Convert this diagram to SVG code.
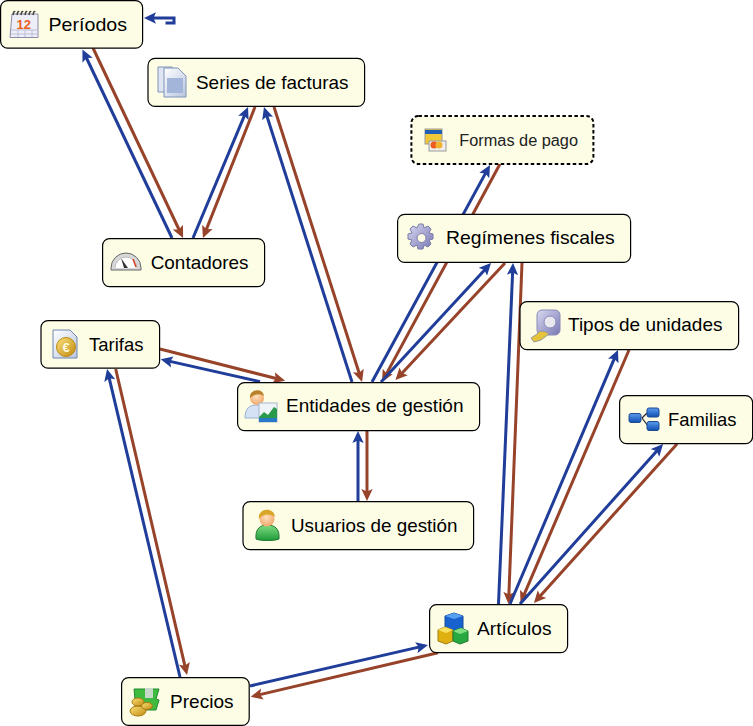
<svg xmlns="http://www.w3.org/2000/svg" width="753" height="726" viewBox="0 0 753 726">
<style>
.n{fill:#fdfde6;stroke:#000;stroke-width:1.2}
.d{stroke-dasharray:3.5 2.5;stroke-width:2}
text{font-family:"Liberation Sans",Arial,sans-serif;font-size:19px;fill:#000}
.b{fill:none;stroke:#1f3d99;stroke-width:3;marker-end:url(#mb)}
.r{fill:none;stroke:#97432a;stroke-width:3;marker-end:url(#mr)}
</style>
<defs>
<marker id="mb" markerUnits="userSpaceOnUse" markerWidth="12" markerHeight="12" viewBox="0 0 10 10" refX="5.800" refY="5" orient="auto"><path d="M10,5L0,.3L2,5L0,9.700Z" fill="#1f3d99"/></marker>
<marker id="mr" markerUnits="userSpaceOnUse" markerWidth="12" markerHeight="12" viewBox="0 0 10 10" refX="5.800" refY="5" orient="auto"><path d="M10,5L0,.3L2,5L0,9.700Z" fill="#97432a"/></marker>
<linearGradient id="gPaper" x1="0" y1="0" x2="1" y2="1"><stop offset="0" stop-color="#fff"/><stop offset="1" stop-color="#b9c6e0"/></linearGradient>
<linearGradient id="gGold" x1="0" y1="0" x2="1" y2="1"><stop offset="0" stop-color="#fbe27a"/><stop offset="1" stop-color="#c08a10"/></linearGradient>
<linearGradient id="gGreen" x1="0" y1="0" x2="0" y2="1"><stop offset="0" stop-color="#7fdc7f"/><stop offset="1" stop-color="#1f9a3a"/></linearGradient>
<linearGradient id="gBlue" x1="0" y1="0" x2="0" y2="1"><stop offset="0" stop-color="#5a9bee"/><stop offset="1" stop-color="#1050b0"/></linearGradient>
<linearGradient id="gGear" x1="0" y1="0" x2="1" y2="1"><stop offset="0" stop-color="#d9d9f2"/><stop offset="1" stop-color="#7878b4"/></linearGradient>
<radialGradient id="gSkin" cx=".45" cy=".4" r=".7"><stop offset="0" stop-color="#fde0bd"/><stop offset="1" stop-color="#ef9f5f"/></radialGradient>
</defs>
<g id="connectors">
<path class="b" d="M172,238L84.600,54"/>
<path class="r" d="M93,48L180.900,233.500"/>
<path class="b" d="M193,238L246.100,111.600"/>
<path class="r" d="M255,107L204.800,233.400"/>
<path class="b" d="M352,382L265.500,111.800"/>
<path class="r" d="M274,107L360.500,377.200"/>
<path class="b" d="M372,382L487.600,169.400"/>
<path class="r" d="M500,164L384.400,377.600"/>
<path class="b" d="M381,382L487.600,266.700"/>
<path class="r" d="M505,263L398.900,376.400"/>
<path class="b" d="M498.500,604L512.800,268"/>
<path class="r" d="M522,263L508.700,599"/>
<path class="b" d="M510,604L616,354.600"/>
<path class="r" d="M629,350L522.500,598.400"/>
<path class="b" d="M520,604L659.700,447.700"/>
<path class="r" d="M677,444L537.300,599.300"/>
<path class="b" d="M250,686L423.100,646.100"/>
<path class="r" d="M438,652.700L255.600,695.600"/>
<path class="b" d="M180,677L108.200,373.900"/>
<path class="r" d="M115.700,369L185.900,670.100"/>
<path class="b" d="M260,381.700L165.600,360.400"/>
<path class="r" d="M160,349L280.200,379.500"/>
<path class="b" d="M358,501L358,436"/>
<path class="r" d="M367,431L367,496"/>
<path class="b" d="M165.500,23H174V18H149"/>
</g>
<g id="periodos">
<rect class="n" x="0.600" y="0.600" width="142" height="47.600" rx="7"/>
<path d="M12,14L38,14L38,37.500L10,37.500Z" fill="#eeeef8" stroke="#8a8aa8"/>
<path d="M11,30H37.500M11,34H37.500M18,30V37M25,30V37M32,30V37" stroke="#bcbcd8" fill="none"/>
<path d="M13,15q1,-5 2,-3M17,15q1,-5 2,-3M21,15q1,-5 2,-3M25,15q1,-5 2,-3M29,15q1,-5 2,-3M33,15q1,-5 2,-3" stroke="#444" fill="none" stroke-width="1.500"/>
<text x="16.500" y="29" style="font-size:13px;font-weight:bold;fill:#e8601c">12</text>
<text x="48.500" y="31" textLength="78.500" lengthAdjust="spacingAndGlyphs">Períodos</text>
</g>
<g id="series">
<rect class="n" x="148" y="58.400" width="216.600" height="48" rx="7"/>
<path d="M158,67H172L176,71V92H158Z" fill="#dfe5f2" stroke="#7f92b8"/>
<path d="M164,68H178L186,76V97H164Z" fill="url(#gPaper)" stroke="#7f92b8"/>
<rect x="167" y="78" width="16" height="15" fill="#a3b6da"/>
<text x="196" y="89" textLength="152.500" lengthAdjust="spacingAndGlyphs">Series de facturas</text>
</g>
<g id="formas">
<rect class="n d" x="411.400" y="116" width="182" height="48" rx="7"/>
<rect x="425" y="129" width="17" height="15" fill="#f0c838" stroke="#9a9a9a"/>
<rect x="425" y="130" width="17" height="4" fill="#1f5fb8"/>
<rect x="429" y="141" width="17" height="10" fill="#eee" stroke="#9a9a9a"/>
<circle cx="434" cy="145" r="3.500" fill="#ef5a20"/><circle cx="439" cy="145" r="3.500" fill="#f3b32e"/>
<text x="459.300" y="146" textLength="118.700" lengthAdjust="spacingAndGlyphs" style="font-size:16px;fill:#222">Formas de pago</text>
</g>
<g id="regimenes">
<rect class="n" x="397.600" y="214.400" width="233" height="48" rx="7"/>
<path d="M419,224l4,0l1,4l4,-2l3,3l-2,4l4,1l0,5l-4,1l2,4l-3,3l-4,-2l-1,4l-5,0l-1,-4l-4,2l-3,-3l2,-4l-4,-1l0,-5l4,-1l-2,-4l3,-3l4,2Z" fill="url(#gGear)" stroke="#7a7aa8"/>
<circle cx="421.500" cy="238" r="4.500" fill="#fdfde6" stroke="#7a7aa8"/>
<text x="446" y="244" textLength="168.700" lengthAdjust="spacingAndGlyphs">Regímenes fiscales</text>
</g>
<g id="contadores">
<rect class="n" x="102.600" y="238.600" width="162" height="48" rx="7"/>
<path d="M111,270v-2a15,15 0 0 1 30,0v2Z" fill="#d8d8d8" stroke="#666"/>
<path d="M115,268a11,11 0 0 1 22,0" fill="#fff" stroke="#bbb"/>
<path d="M133,259l3,8" stroke="#d84020" stroke-width="1.500"/>
<path d="M121,258l7,10h-4Z" fill="#333"/>
<text x="150.700" y="269" textLength="97.800" lengthAdjust="spacingAndGlyphs">Contadores</text>
</g>
<g id="tarifas">
<rect class="n" x="41" y="320.600" width="118.600" height="47.600" rx="7"/>
<path d="M53,330H70L77,337V358H53Z" fill="url(#gPaper)" stroke="#6f84b0"/>
<circle cx="66" cy="347" r="9.500" fill="url(#gGold)" stroke="#b98a10"/>
<text x="66" y="352" text-anchor="middle" style="font-size:13px;font-weight:bold;fill:#fff8dc">€</text>
<text x="89" y="351" textLength="54.500" lengthAdjust="spacingAndGlyphs">Tarifas</text>
</g>
<g id="entidades">
<rect class="n" x="237.600" y="382.600" width="242" height="48" rx="7"/>
<path d="M245,418c0,-10 5,-13 11,-13c6,0 10,3 10,13Z" fill="#d5e2f5" stroke="#9ab0d0"/>
<circle cx="257" cy="398" r="7" fill="url(#gSkin)"/>
<path d="M250,398c-1,-9 13,-11 14,-2c-5,-3 -9,-2 -14,2Z" fill="#b9802a"/>
<rect x="259" y="403" width="18" height="19" fill="#eef3f8" stroke="#a8b8cc"/>
<path d="M259,422V417L264,412L268,415L274,407L277,409V422Z" fill="#2a9a4a"/>
<rect x="259" y="418" width="18" height="4" fill="#2a78c8"/>
<text x="286" y="412" textLength="177.500" lengthAdjust="spacingAndGlyphs">Entidades de gestión</text>
</g>
<g id="usuarios">
<rect class="n" x="243" y="501.600" width="230.600" height="48" rx="7"/>
<path d="M256,539c-1,-11 5,-14 11,-14c7,0 13,3 12,14c-4,2 -19,2 -23,0Z" fill="url(#gGreen)" stroke="#1f7a30"/>
<circle cx="267" cy="519" r="7.500" fill="url(#gSkin)"/>
<path d="M259,519c-2,-11 15,-13 16,-2c-4,-3 -11,-4 -16,2Z" fill="#d9a62a"/>
<text x="291" y="532" textLength="166.500" lengthAdjust="spacingAndGlyphs">Usuarios de gestión</text>
</g>
<g id="tipos">
<rect class="n" x="520" y="301.600" width="218.600" height="48" rx="7"/>
<rect x="537" y="310" width="23" height="25" rx="5" fill="url(#gGear)" stroke="#8a8ab8"/>
<circle cx="550" cy="322" r="6" fill="#e8e8ee" stroke="#8a8ab8"/>
<path d="M531,338l6,-4l3,-3l6,1l3,2l-8,6l-7,2Z" fill="#e6c43a" stroke="#999"/>
<text x="568" y="331" textLength="154.500" lengthAdjust="spacingAndGlyphs">Tipos de unidades</text>
</g>
<g id="familias">
<rect class="n" x="619.600" y="395.600" width="133" height="48" rx="7"/>
<path d="M642,418L647,413M642,418L648,426" fill="none" stroke="#223" stroke-width="1.200"/>
<rect x="629" y="413.500" width="12" height="9" rx="2" fill="url(#gBlue)" stroke="#1b4a90"/>
<rect x="647" y="408" width="12" height="9" rx="2" fill="url(#gBlue)" stroke="#1b4a90"/>
<rect x="647" y="421.500" width="12" height="9" rx="2" fill="url(#gBlue)" stroke="#1b4a90"/>
<text x="668" y="426" textLength="68.500" lengthAdjust="spacingAndGlyphs">Familias</text>
</g>
<g id="articulos">
<rect class="n" x="429.600" y="604.600" width="138" height="48" rx="7"/>
<path d="M445,616l9,-3l9,3v13l-9,3l-9,-3Z" fill="#1862d0" stroke="#144a9a"/>
<path d="M445,616l9,-3l9,3l-9,3Z" fill="#58a0f0"/>
<path d="M438,630l7,-3l8,3v11l-7,3l-8,-3Z" fill="#e0b010" stroke="#a08010"/>
<path d="M438,630l7,-3l8,3l-7,3Z" fill="#f8e060"/>
<path d="M453,631l8,-3l7,3v10l-8,3l-7,-3Z" fill="#28a840" stroke="#1f7a30"/>
<path d="M453,631l8,-3l7,3l-8,3Z" fill="#80e080"/>
<text x="477" y="635" textLength="74.500" lengthAdjust="spacingAndGlyphs">Artículos</text>
</g>
<g id="precios">
<rect class="n" x="121.600" y="677.600" width="127.600" height="47.800" rx="7"/>
<path d="M134,689h25l-3,10l3,1l-3,10h-20Z" fill="#3fbc3f" stroke="#1f8a2f"/>
<rect x="145" y="688" width="8" height="10" fill="#c8d8c8"/>
<ellipse cx="138" cy="711" rx="8" ry="5" fill="url(#gGold)" stroke="#a87a10"/>
<ellipse cx="138" cy="702" rx="6" ry="4" fill="url(#gGold)" stroke="#a87a10"/>
<ellipse cx="147" cy="706" rx="5.500" ry="3.500" fill="url(#gGold)" stroke="#a87a10"/>
<text x="170" y="708" textLength="63.500" lengthAdjust="spacingAndGlyphs">Precios</text>
</g>
</svg>
